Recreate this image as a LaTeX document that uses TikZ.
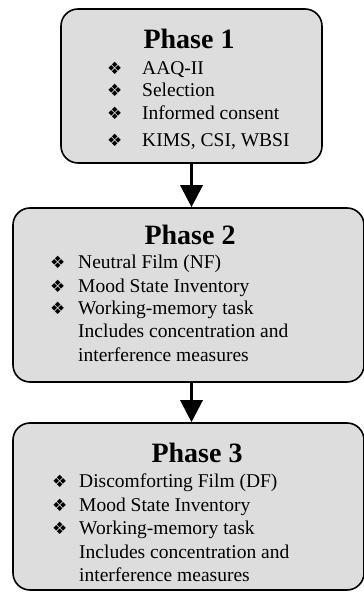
\documentclass[tikz,border=0pt]{standalone}
\usepackage{fontspec}
\setmainfont{Liberation Serif}
\newfontfamily\symfont{DejaVu Sans}
\usetikzlibrary{arrows.meta}
\definecolor{boxgray}{HTML}{DDDDDD}
\newcommand{\bul}[1]{\makebox[#1][l]{\symfont\fontsize{17}{17}\selectfont ❖}}

\begin{document}
\begin{tikzpicture}[x=1pt,y=1pt,
  phasebox/.style={draw,line width=1.6pt,rounded corners=17pt,fill=boxgray,inner sep=0pt},
  title/.style={font=\fontsize{28}{32}\selectfont\bfseries,inner sep=0pt,anchor=base},
  item/.style={font=\fontsize{19.5}{23}\selectfont,inner sep=0pt,anchor=base west},
  flow/.style={line width=3.2pt,-{Triangle[width=22pt,length=22pt]}}]
\useasboundingbox (0,0) rectangle (364,592);

% the three phases
\node[phasebox,minimum width=261pt,minimum height=154pt] (p1) at (191.5,506) {};
\node[phasebox,minimum width=351pt,minimum height=174pt] (p2) at (188.5,297) {};
\node[phasebox,minimum width=351pt,minimum height=167pt] (p3) at (188.5,85.5) {};

\draw[flow] (p1.south) -- (p1.south |- p2.north);
\draw[flow] (p2.south -| p1.south) -- (p1.south |- p3.north);

% phase 1
\node[title] (t1) at (189,543) {Phase 1};
\node[item] (a1) at (107,517) {\bul{35pt}AAQ-II};
\node[item] (a2) at (107,495) {\bul{35pt}Selection};
\node[item] (a3) at (107,472) {\bul{35pt}Informed consent};
\node[item] (a4) at (107,445) {\bul{35pt}KIMS, CSI, WBSI};

% phase 2
\node[title] (t2) at (190,347) {Phase 2};
\node[item] (b1) at (50,323) {\bul{28pt}Neutral Film (NF)};
\node[item] (b2) at (50,299) {\bul{28pt}Mood State Inventory};
\node[item] (b3) at (50,277) {\bul{28pt}Working-memory task};
\node[item] (b4) at (78,254) {Includes concentration and};
\node[item] (b5) at (78,230) {interference measures};

% phase 3
\node[title] (t3) at (197,129) {Phase 3};
\node[item] (c1) at (52,104) {\bul{27pt}Discomforting Film (DF)};
\node[item] (c2) at (52,80) {\bul{27pt}Mood State Inventory};
\node[item] (c3) at (52,57) {\bul{27pt}Working-memory task};
\node[item] (c4) at (79,34) {Includes concentration and};
\node[item] (c5) at (79,10) {interference measures};
\end{tikzpicture}
\end{document}
